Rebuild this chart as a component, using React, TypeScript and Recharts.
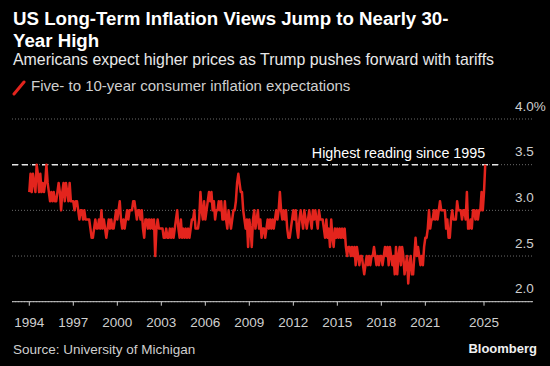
import { LineChart, Line, XAxis, YAxis, CartesianGrid, ReferenceLine } from "recharts";

// Monthly readings, one row per year starting Jan 1994 (last row is partial: Jan-Feb 2025)
const startYear = 1994;
const readings: number[][] = [
  [3.2, 3.4, 3.2, 3.4, 3.3, 3.2, 3.5, 3.4, 3.2, 3.4, 3.2, 3.3], // 1994
  [3.2, 3.3, 3.5, 3.3, 3.2, 3.1, 3.2, 3.1, 3.2, 3.1, 3.1, 3.2], // 1995
  [3.3, 3.2, 3.0, 3.2, 3.3, 3.1, 3.3, 3.2, 3.1, 3.3, 3.1, 3.1], // 1996
  [3.1, 3.0, 3.1, 3.1, 3.0, 2.9, 3.0, 3.0, 2.9, 3.0, 2.9, 2.9], // 1997
  [2.9, 2.9, 2.8, 2.7, 2.7, 2.8, 2.9, 2.8, 2.8, 2.9, 2.8, 3.0], // 1998
  [2.8, 2.9, 2.8, 2.7, 2.8, 2.9, 2.8, 2.9, 2.8, 2.8, 2.9, 3.0], // 1999
  [2.9, 3.0, 3.1, 2.9, 2.8, 2.9, 2.8, 2.9, 3.0, 2.9, 3.0, 3.0], // 2000
  [3.0, 3.1, 3.1, 3.0, 2.9, 3.0, 3.0, 2.9, 3.0, 2.8, 2.7, 2.9], // 2001
  [2.9, 2.8, 2.9, 2.8, 2.9, 2.8, 2.9, 2.5, 2.8, 2.9, 2.8, 2.8], // 2002
  [2.8, 2.8, 2.7, 2.7, 2.8, 2.7, 2.7, 2.8, 2.7, 2.8, 2.7, 2.8], // 2003
  [2.9, 3.0, 2.8, 2.7, 2.9, 2.7, 2.8, 2.7, 2.8, 2.7, 2.8, 2.7], // 2004
  [2.8, 2.9, 2.9, 3.0, 2.8, 2.8, 2.8, 2.9, 3.2, 3.0, 2.9, 3.1], // 2005
  [2.9, 3.0, 3.1, 3.2, 3.1, 3.2, 3.0, 3.1, 2.9, 3.0, 3.0, 3.1], // 2006
  [3.0, 3.1, 2.9, 2.9, 3.1, 2.9, 2.8, 3.0, 2.9, 2.8, 2.9, 3.0], // 2007
  [3.0, 3.1, 3.3, 3.4, 3.3, 3.2, 3.2, 3.0, 2.9, 2.8, 2.9, 2.6], // 2008
  [2.9, 2.8, 2.6, 2.9, 3.0, 2.8, 2.9, 3.0, 2.8, 2.9, 2.7, 2.8], // 2009
  [2.8, 2.7, 2.8, 2.9, 2.8, 2.9, 2.8, 2.9, 2.8, 2.9, 3.0, 2.9], // 2010
  [3.0, 3.2, 3.0, 2.9, 3.0, 2.9, 3.0, 2.8, 2.7, 2.7, 2.8, 2.9], // 2011
  [3.0, 2.9, 3.0, 2.8, 2.7, 2.9, 3.0, 2.9, 2.8, 3.0, 2.9, 2.8], // 2012
  [2.9, 3.0, 2.9, 2.8, 3.0, 2.9, 3.0, 2.9, 2.8, 3.0, 2.9, 2.9], // 2013
  [2.9, 2.8, 2.7, 2.9, 2.7, 2.8, 2.6, 2.9, 2.7, 2.6, 2.8, 2.7], // 2014
  [2.8, 2.7, 2.8, 2.7, 2.8, 2.7, 2.8, 2.6, 2.5, 2.6, 2.6, 2.5], // 2015
  [2.6, 2.5, 2.6, 2.4, 2.6, 2.5, 2.4, 2.5, 2.5, 2.4, 2.3, 2.4], // 2016
  [2.5, 2.4, 2.5, 2.4, 2.5, 2.5, 2.6, 2.5, 2.4, 2.5, 2.4, 2.5], // 2017
  [2.5, 2.4, 2.5, 2.6, 2.5, 2.6, 2.4, 2.6, 2.5, 2.4, 2.5, 2.3], // 2018
  [2.6, 2.3, 2.5, 2.6, 2.4, 2.6, 2.5, 2.3, 2.4, 2.5, 2.2, 2.4], // 2019
  [2.5, 2.3, 2.3, 2.5, 2.7, 2.5, 2.6, 2.5, 2.4, 2.5, 2.4, 2.6], // 2020
  [2.7, 2.7, 2.8, 3.0, 2.8, 2.9, 2.9, 3.0, 2.9, 3.0, 2.9, 3.0], // 2021
  [3.1, 3.0, 3.0, 3.0, 3.0, 2.8, 2.9, 2.7, 2.7, 2.9, 3.0, 2.9], // 2022
  [2.9, 2.9, 3.1, 3.0, 3.0, 3.0, 2.9, 3.0, 3.0, 2.9, 3.2, 2.8], // 2023
  [2.8, 2.9, 2.8, 3.0, 3.0, 2.9, 3.0, 2.9, 3.0, 3.0, 3.2, 3.0], // 2024
  [3.2, 3.5], // 2025
];

const xTicks = [1994, 1997, 2000, 2003, 2006, 2009, 2012, 2015, 2018, 2021, 2025];
const yTicks = [2.0, 2.5, 3.0, 3.5, 4.0];
const peakLevel = 3.5;
const peakNote = "Highest reading since 1995";

const rows = readings.flatMap((yr, i) =>
  yr.map((v, m) => ({ t: startYear + i + m / 12, v }))
);

const W = 550;
const H = 366;
const xDomain = [1992.82, 2028.34];
const red = "#e3241d";
const soft = "#cfcfcf";

const YTick = (props: any) => {
  const { y, payload } = props;
  const label = payload.value === 4 ? "4.0%" : Number(payload.value).toFixed(1);
  return (
    <text x={515} y={y - 8.5} fill={soft} fontSize={13.5}>
      {label}
    </text>
  );
};

const PeakLabel = (props: any) => {
  const vb = props.viewBox;
  return (
    <text x={vb.x + vb.width - 15} y={vb.y - 7} textAnchor="end" fill="#ffffff" fontSize={14.3}>
      {peakNote}
    </text>
  );
};

export default function App() {
  return (
    <div
      style={{
        position: "absolute",
        left: 0,
        top: 0,
        width: W,
        height: H,
        background: "#000",
        overflow: "hidden",
        fontFamily: "'Liberation Sans', Arial, sans-serif",
        color: "#fff",
      }}
    >
      <div style={{ position: "absolute", left: 13, top: 8, fontSize: 18.7, lineHeight: "22px", fontWeight: 700, whiteSpace: "nowrap" }}>
        <div>US Long-Term Inflation Views Jump to Nearly 30-</div>
        <div>Year High</div>
      </div>
      <div style={{ position: "absolute", left: 13, top: 51, fontSize: 15.9, lineHeight: "18px", color: "#e8e8e8", whiteSpace: "nowrap" }}>
        Americans expect higher prices as Trump pushes forward with tariffs
      </div>
      <svg style={{ position: "absolute", left: 12, top: 80 }} width={16} height={16}>
        <line x1={2} y1={14} x2={12} y2={2} stroke={red} strokeWidth={3} strokeLinecap="round" />
      </svg>
      <div style={{ position: "absolute", left: 31, top: 78.3, fontSize: 15, lineHeight: "16px", color: soft, whiteSpace: "nowrap" }}>
        Five- to 10-year consumer inflation expectations
      </div>

      <div style={{ position: "absolute", left: 0, top: 0 }}>
        <LineChart width={W} height={H} data={rows} margin={{ top: 119, right: 16, bottom: 34.3, left: 12 }}>
          <CartesianGrid vertical={false} stroke="#6a6a6a" strokeDasharray="1 2" />
          <XAxis
            dataKey="t"
            type="number"
            domain={xDomain}
            ticks={xTicks}
            interval={0}
            height={30}
            axisLine={{ stroke: soft }}
            tickLine={{ stroke: soft }}
            tickSize={4}
            tickMargin={12}
            tick={{ fill: soft, fontSize: 13.5 }}
          />
          <YAxis
            type="number"
            domain={[2, 4]}
            ticks={yTicks}
            orientation="right"
            width={1}
            axisLine={false}
            tickLine={false}
            interval={0}
            tick={YTick}
          />
          <ReferenceLine
            segment={[
              { x: xDomain[0], y: peakLevel },
              { x: 2026.1, y: peakLevel },
            ]}
            stroke="#e6e6e6"
            strokeWidth={1.5}
            strokeDasharray="6 4"
            label={PeakLabel}
          />
          <Line
            dataKey="v"
            stroke={red}
            strokeWidth={2.5}
            strokeLinejoin="round"
            dot={false}
            isAnimationActive={false}
          />
        </LineChart>
      </div>

      <div style={{ position: "absolute", left: 13, top: 341.6, fontSize: 13.5, lineHeight: "16px", color: soft, whiteSpace: "nowrap" }}>
        Source: University of Michigan
      </div>
      <div style={{ position: "absolute", right: 13, top: 341, fontSize: 13, lineHeight: "16px", fontWeight: 700, color: "#f0f0f0" }}>
        Bloomberg
      </div>
    </div>
  );
}
